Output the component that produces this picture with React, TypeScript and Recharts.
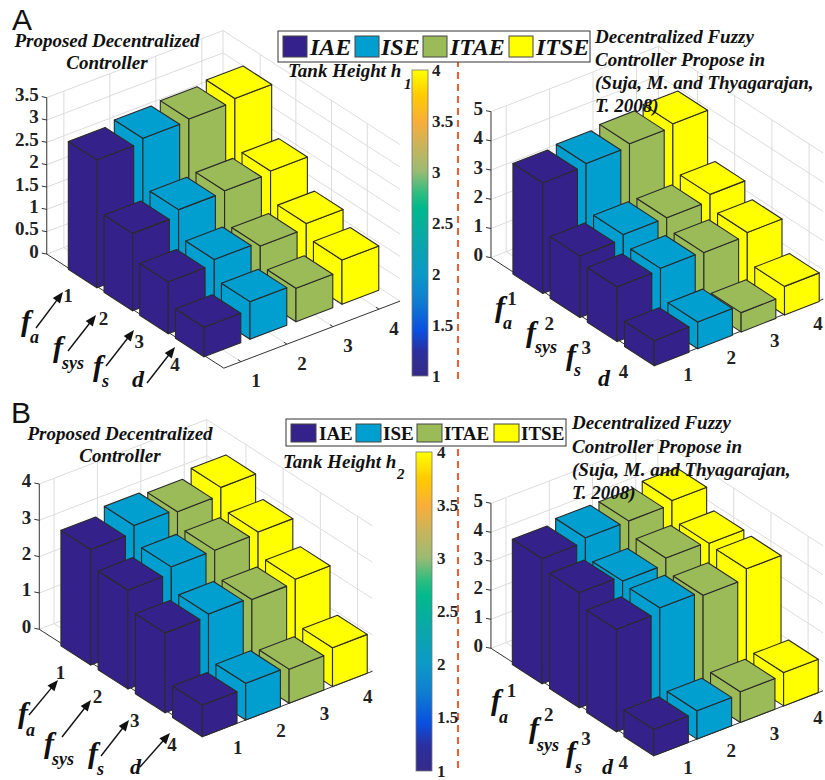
import { ScatterChart, Scatter, XAxis, YAxis } from 'recharts';

const colours = ['#34228a', '#009fd0', '#9bbb59', '#ffff00'];
const seriesNames = ['IAE', 'ISE', 'ITAE', 'ITSE'];
const categoryTicks = [1, 2, 3, 4];

// values per fault row 1..4 (fa, fsys, fs, d)
const h1ProposedIAE = [2.86, 1.73, 1.16, 0.66];
const h1ProposedISE = [2.95, 1.87, 1.27, 0.84];
const h1ProposedITAE = [2.99, 1.9, 1.18, 0.75];
const h1ProposedITSE = [3.06, 1.95, 1.29, 0.99];

const h1FuzzyIAE = [3.79, 2.11, 1.88, 0.86];
const h1FuzzyISE = [3.87, 2.26, 1.93, 0.92];
const h1FuzzyITAE = [3.97, 2.26, 1.89, 0.66];
const h1FuzzyITSE = [4.07, 2.48, 2.0, 0.98];

const h2ProposedIAE = [3.18, 2.72, 2.2, 0.87];
const h2ProposedISE = [3.38, 2.9, 2.26, 1.01];
const h2ProposedITAE = [3.3, 2.9, 2.2, 0.94];
const h2ProposedITSE = [3.51, 2.94, 2.3, 1.07];

const h2FuzzyIAE = [4.32, 3.97, 3.53, 0.91];
const h2FuzzyISE = [4.46, 3.8, 3.7, 0.98];
const h2FuzzyITAE = [4.47, 4.02, 3.56, 1.06];
const h2FuzzyITSE = [4.6, 3.95, 3.9, 1.15];

const zTicksA = ['0', '0.5', '1', '1.5', '2', '2.5', '3', '3.5'];
const zTicksFive = ['0', '1', '2', '3', '4', '5'];
const zTicksFour = ['0', '1', '2', '3', '4'];
const barTicks = ['1', '1.5', '2', '2.5', '3', '3.5', '4'];

type Vec = [number, number];
interface Panel {
  id: string;
  values: number[][];
  zTicks: string[];
  center: Vec; // floor centre of row 4, col 1
  u: Vec;
  v: Vec;
  w: number;
  cMin: number;
  cMax: number;
  rMin: number;
  rMax: number;
  rowOff: Vec;
  colOff: Vec;
}

const panels: Panel[] = [
  { id: 'a1', values: [h1ProposedIAE, h1ProposedISE, h1ProposedITAE, h1ProposedITSE], zTicks: zTicksA,
    center: [208.1, 340.5], u: [46, -17.5], v: [35.7, 23], w: 44.7,
    cMin: 0.628, cMax: 4.46, rMin: -0.04, rMax: 4.92, rowOff: [-16, 17], colOff: [15, 19] },
  { id: 'a2', values: [h1FuzzyIAE, h1FuzzyISE, h1FuzzyITAE, h1FuzzyITSE], zTicks: zTicksFive,
    center: [656.78, 349.3], u: [43.4, -16.9], v: [37.2, 24.1], w: 29.2,
    cMin: 0.649, cMax: 4.51, rMin: -0.047, rMax: 4.38, rowOff: [-18, 16], colOff: [17, 16] },
  { id: 'b1', values: [h2ProposedIAE, h2ProposedISE, h2ProposedITAE, h2ProposedITSE], zTicks: zTicksFour,
    center: [204.78, 720.46], u: [43.4, -16.7], v: [37.2, 23.9], w: 36.33,
    cMin: 0.66, cMax: 4.52, rMin: -0.052, rMax: 4.4, rowOff: [-18, 18], colOff: [18, 17] },
  { id: 'b2', values: [h2FuzzyIAE, h2FuzzyISE, h2FuzzyITAE, h2FuzzyITSE], zTicks: zTicksFive,
    center: [656.14, 739.46], u: [43.3, -16.6], v: [37.2, 24], w: 29,
    cMin: 0.654, cMax: 4.51, rMin: -0.038, rMax: 4.4, rowOff: [-18, 17], colOff: [17, 18] },
];

const project = (p: Panel, r: number, c: number, z = 0) => ({
  x: p.center[0] + (c - 1) * p.u[0] + (r - 4) * p.v[0],
  y: p.center[1] + (c - 1) * p.u[1] + (r - 4) * p.v[1] - z * p.w,
});

// back rows first, right columns first, so nearer bars paint over farther ones
const barPoints = (p: Panel) => {
  const out: any[] = [];
  categoryTicks.forEach((r) => {
    [...categoryTicks].reverse().forEach((c) => {
      const value = p.values[c - 1][r - 1];
      out.push({ ...project(p, r, c), value, col: c - 1, panel: p });
    });
  });
  return out;
};

function Bar3D(props: any) {
  const { cx, cy, payload } = props;
  const { u, v, w } = payload.panel as Panel;
  const h = payload.value * w;
  const pt = (a: number, b: number, up: number) => `${cx + a * u[0] + b * v[0]},${cy + a * u[1] + b * v[1] - up}`;
  const s = 0.4;
  const fill = colours[payload.col];
  const face = { fill, stroke: '#2b2b2b', strokeWidth: 1.1, strokeLinejoin: 'round' as const };
  return (
    <g>
      <polygon {...face} points={[pt(-s, -s, 0), pt(-s, s, 0), pt(-s, s, h), pt(-s, -s, h)].join(' ')} />
      <polygon {...face} points={[pt(-s, s, 0), pt(s, s, 0), pt(s, s, h), pt(-s, s, h)].join(' ')} />
      <polygon {...face} points={[pt(-s, -s, h), pt(s, -s, h), pt(s, s, h), pt(-s, s, h)].join(' ')} />
    </g>
  );
}

const NoDot = () => <g />;

const gridLines = (p: Panel) => {
  const zMax = Number(p.zTicks[p.zTicks.length - 1]);
  const lines: { x: number; y: number }[][] = [];
  p.zTicks.forEach((t) => {
    const z = Number(t);
    lines.push([project(p, p.rMin, p.cMin, z), project(p, p.rMin, p.cMax, z)]);
    lines.push([project(p, p.rMin, p.cMax, z), project(p, p.rMax, p.cMax, z)]);
  });
  categoryTicks.forEach((t) => {
    lines.push([project(p, p.rMin, t, 0), project(p, p.rMin, t, zMax)]);
    lines.push([project(p, t, p.cMax, 0), project(p, t, p.cMax, zMax)]);
    lines.push([project(p, p.rMin, t, 0), project(p, p.rMax, t, 0)]);
    lines.push([project(p, t, p.cMin, 0), project(p, t, p.cMax, 0)]);
  });
  lines.push([project(p, p.rMin, p.cMax, 0), project(p, p.rMin, p.cMax, zMax)]);
  return lines;
};

const axisLines = (p: Panel) => {
  const zMax = Number(p.zTicks[p.zTicks.length - 1]);
  const lines: { x: number; y: number }[][] = [
    [project(p, p.rMin, p.cMin, 0), project(p, p.rMin, p.cMin, zMax)],
    [project(p, p.rMin, p.cMin, 0), project(p, p.rMax, p.cMin, 0)],
    [project(p, p.rMax, p.cMin, 0), project(p, p.rMax, p.cMax, 0)],
  ];
  p.zTicks.forEach((t) => {
    const a = project(p, p.rMin, p.cMin, Number(t));
    lines.push([a, { x: a.x - 5, y: a.y - 1 }]);
  });
  categoryTicks.forEach((t) => {
    const a = project(p, t, p.cMin, 0);
    lines.push([a, { x: a.x + 4, y: a.y - 1.5 }]);
    const b = project(p, p.rMax, t, 0);
    lines.push([b, { x: b.x - 3, y: b.y - 2 }]);
  });
  return lines;
};

function TickText(props: any) {
  const { cx, cy, payload } = props;
  return (
    <text x={cx} y={cy} textAnchor={payload.anchor} dominantBaseline="central" fontFamily={serif} fontWeight="bold" fontSize={payload.size} fill="#222">
      {payload.label}
    </text>
  );
}

const tickLabels = (p: Panel) => {
  const out: any[] = [];
  p.zTicks.forEach((t) => {
    const a = project(p, p.rMin, p.cMin, Number(t));
    out.push({ x: a.x - 8, y: a.y - 3, label: t, anchor: 'end', size: 19 });
  });
  categoryTicks.forEach((t) => {
    const a = project(p, t, p.cMin, 0);
    out.push({ x: a.x + p.rowOff[0], y: a.y + p.rowOff[1], label: String(t), anchor: 'middle', size: 19 });
    const b = project(p, p.rMax, t, 0);
    out.push({ x: b.x + p.colOff[0], y: b.y + p.colOff[1], label: String(t), anchor: 'middle', size: 19 });
  });
  return out;
};

// colour bars: value ticks mapped on the bar's pixel span
const colourBars = [
  { id: 'cbA', x: 412, top: 70, bottom: 376, labelX: 432 },
  { id: 'cbB', x: 416, top: 452, bottom: 771, labelX: 437 },
];
const gradientStops = [
  [0, '#352a87'], [0.08, '#2c2f9f'], [0.15, '#0a50e0'], [0.25, '#0f7fd0'], [0.33, '#0c98c8'],
  [0.45, '#0aa8a8'], [0.55, '#00b98c'], [0.6, '#30bd80'], [0.67, '#9cbb72'], [0.75, '#c8b45c'],
  [0.83, '#f8ae3a'], [0.92, '#ffcc00'], [1, '#ffff00'],
];

function ColourBar(props: any) {
  const { cx, cy, payload } = props;
  return (
    <g>
      <defs>
        <linearGradient id={payload.id} x1="0" y1="1" x2="0" y2="0">
          {gradientStops.map(([o, c]) => (
            <stop key={o as number} offset={o as number} stopColor={c as string} />
          ))}
        </linearGradient>
      </defs>
      <rect x={cx} y={cy} width={16} height={payload.h} fill={`url(#${payload.id})`} stroke="#777" strokeWidth={0.8} />
    </g>
  );
}

const serif = '"Liberation Serif", "Times New Roman", serif';

const T = ({ x, y, s, size = 19, italic = true, anchor = 'start', fill = '#111', family = serif, weight = 'bold' }: any) => (
  <text x={x} y={y} fontFamily={family} fontStyle={italic ? 'italic' : 'normal'} fontWeight={weight} fontSize={size} textAnchor={anchor} fill={fill}>
    {s}
  </text>
);

const Arrow = ({ x1, y1, x2, y2 }: any) => {
  const a = Math.atan2(y2 - y1, x2 - x1);
  const l = 11;
  const px = (d: number, off: number) => `${x2 - d * Math.cos(a) - off * Math.sin(a)},${y2 - d * Math.sin(a) + off * Math.cos(a)}`;
  return (
    <g>
      <line x1={x1} y1={y1} x2={x2 - 6 * Math.cos(a)} y2={y2 - 6 * Math.sin(a)} stroke="#111" strokeWidth={1.4} />
      <polygon points={`${x2},${y2} ${px(l, 4.5)} ${px(l, -4.5)}`} fill="#111" />
    </g>
  );
};

// f with its subscript, kept in one text element
const Sub = ({ x, y, f, s, sx, sy, size = 30, subSize = 18 }: any) => (
  <text x={x} y={y} fontFamily={serif} fontStyle="italic" fontWeight="bold" fontSize={size} fill="#111">
    {f}
    <tspan x={sx} y={sy} fontSize={subSize}>{s}</tspan>
  </text>
);

const legendA = { box: [278, 31, 312, 31], sw: [283, 355, 423, 509], tx: [310, 381, 450, 536], y: 36, h: 21, w: 24, base: 55, size: 24, italic: true };
const legendB = { box: [286, 419, 280, 27], sw: [291, 356, 417, 494], tx: [319, 383, 444, 521], y: 424, h: 18, w: 25, base: 440, size: 19, italic: false };

const Legend3D = ({ l }: any) => (
  <g>
    <rect x={l.box[0]} y={l.box[1]} width={l.box[2]} height={l.box[3]} fill="#fff" stroke="#333" strokeWidth={1} />
    {seriesNames.map((n, i) => (
      <g key={n}>
        <rect x={l.sw[i]} y={l.y} width={l.w} height={l.h} fill={colours[i]} stroke="#444" strokeWidth={1} />
        <T x={l.tx[i]} y={l.base} s={n} size={l.size} italic={l.italic} />
      </g>
    ))}
  </g>
);

export default function App() {
  return (
    <div style={{ position: 'absolute', left: 0, top: 0, width: 825, height: 780, background: '#fff', overflow: 'hidden' }}>
      <div style={{ position: 'absolute', left: 0, top: 0 }}>
        <ScatterChart width={825} height={780} margin={{ top: 0, right: 0, bottom: 0, left: 0 }}>
          <XAxis hide type="number" dataKey="x" domain={[0, 825]} allowDataOverflow />
          <YAxis hide type="number" dataKey="y" domain={[0, 780]} reversed allowDataOverflow />
          {panels.flatMap((p) =>
            gridLines(p).map((seg, i) => (
              <Scatter key={`${p.id}-g${i}`} data={seg} line={{ stroke: '#dcdcdc', strokeWidth: 1 }} shape={NoDot} isAnimationActive={false} />
            ))
          )}
          {panels.flatMap((p) =>
            axisLines(p).map((seg, i) => (
              <Scatter key={`${p.id}-a${i}`} data={seg} line={{ stroke: '#333', strokeWidth: 1 }} shape={NoDot} isAnimationActive={false} />
            ))
          )}
          {panels.map((p) => (
            <Scatter key={p.id} data={barPoints(p)} shape={Bar3D} isAnimationActive={false} />
          ))}
          {panels.map((p) => (
            <Scatter key={`${p.id}-t`} data={tickLabels(p)} shape={TickText} isAnimationActive={false} />
          ))}
          {colourBars.map((b) => (
            <Scatter key={b.id} data={[{ x: b.x, y: b.top, id: b.id, h: b.bottom - b.top }]} shape={ColourBar} isAnimationActive={false} />
          ))}
          <Scatter data={[{ x: 458, y: 60 }, { x: 458, y: 382 }]} shape={NoDot} line={{ stroke: '#f0602f', strokeWidth: 2, strokeDasharray: '7 5' }} isAnimationActive={false} />
          <Scatter data={[{ x: 458, y: 449 }, { x: 458, y: 772 }]} shape={NoDot} line={{ stroke: '#f0602f', strokeWidth: 2, strokeDasharray: '7 5' }} isAnimationActive={false} />
          {colourBars.map((b) => (
            <Scatter
              key={`${b.id}-t`}
              data={barTicks.map((t) => ({
                x: b.labelX,
                y: b.bottom - ((Number(t) - 1) / 3) * (b.bottom - b.top),
                label: t,
                anchor: 'start',
                size: 17,
              }))}
              shape={TickText}
              isAnimationActive={false}
            />
          ))}
        </ScatterChart>
      </div>
      <svg width={825} height={780} style={{ position: 'absolute', left: 0, top: 0, pointerEvents: 'none' }}>
        <T x={12} y={30} s="A" size={30} italic={false} family='"Liberation Sans", sans-serif' weight="normal" />
        <T x={11} y={423} s="B" size={30} italic={false} family='"Liberation Sans", sans-serif' weight="normal" />

        <Legend3D l={legendA} />
        <Legend3D l={legendB} />

        <T x={107} y={47} s="Proposed Decentralized" anchor="middle" />
        <T x={107} y={69} s="Controller" anchor="middle" />
        <T x={595} y={43} s="Decentralized Fuzzy" />
        <T x={595} y={66} s="Controller Propose in" />
        <T x={595} y={89} s="(Suja, M. and Thyagarajan," />
        <T x={595} y={112} s="T. 2008)" />
        <T x={288} y={77} s="Tank Height h" />
        <T x={404} y={89} s="1" size={15} />

        <T x={120} y={440} s="Proposed Decentralized" anchor="middle" />
        <T x={120} y={462} s="Controller" anchor="middle" />
        <T x={572} y={429} s="Decentralized Fuzzy" />
        <T x={572} y={453} s="Controller Propose in" />
        <T x={572} y={476} s="(Suja, M. and Thyagarajan," />
        <T x={572} y={499} s="T. 2008)" />
        <T x={283} y={468} s="Tank Height h" />
        <T x={397} y={479} s="2" size={15} />

        <Arrow x1={36} y1={328} x2={63} y2={292} />
        <Arrow x1={68} y1={351} x2={96} y2={315} />
        <Arrow x1={106} y1={366} x2={134} y2={330} />
        <Arrow x1={147} y1={383} x2={175} y2={347} />
        <Sub x={21} y={331} f="f" s="a" sx={30} sy={343} />
        <Sub x={53} y={357} f="f" s="sys" sx={62} sy={369} />
        <Sub x={93} y={376} f="f" s="s" sx={102} sy={387} />
        <T x={132} y={387} s="d" size={24} />

        <Sub x={495} y={317} f="f" s="a" sx={503} sy={329} />
        <Sub x={526} y={342} f="f" s="sys" sx={535} sy={353} />
        <Sub x={566} y={365} f="f" s="s" sx={574} sy={376} />
        <T x={598} y={386} s="d" size={24} />

        <Arrow x1={29} y1={715} x2={58} y2={680} />
        <Arrow x1={62} y1={737} x2={91} y2={700} />
        <Arrow x1={101} y1={756} x2={129} y2={720} />
        <Arrow x1={140} y1={767} x2={170} y2={733} />
        <Sub x={18} y={723} f="f" s="a" sx={26} sy={736} />
        <Sub x={44} y={753} f="f" s="sys" sx={52} sy={765} />
        <Sub x={88} y={763} f="f" s="s" sx={97} sy={775} />
        <T x={130} y={774} s="d" size={22} />

        <Sub x={491} y={710} f="f" s="a" sx={499} sy={723} />
        <Sub x={529} y={738} f="f" s="sys" sx={537} sy={751} />
        <Sub x={566} y={762} f="f" s="s" sx={575} sy={773} />
        <T x={602} y={774} s="d" size={22} />
      </svg>
    </div>
  );
}
